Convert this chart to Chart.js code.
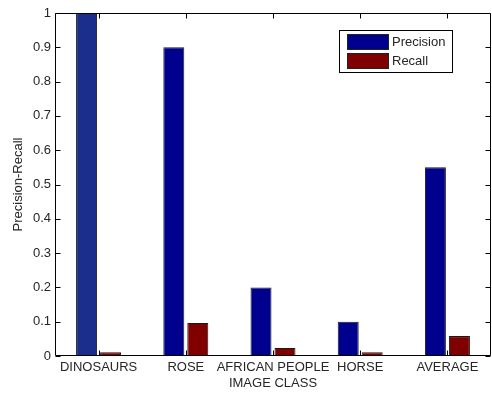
<!DOCTYPE html>
<html>
<head>
<meta charset="utf-8">
<script src="https://cdn.jsdelivr.net/npm/chart.js@4.4.1/dist/chart.umd.min.js"></script>
<style>
  html, body { margin: 0; padding: 0; background: #fff; }
  #wrap { width: 492px; height: 394px; }
</style>
</head>
<body>
<div id="wrap"><canvas id="prChart" width="492" height="394"></canvas></div>
<script>
// Data
const classes = ['DINOSAURS', 'ROSE', 'AFRICAN PEOPLE', 'HORSE', 'AVERAGE'];
const precision = [1.0, 0.9, 0.2, 0.1, 0.55];
const recall = [0.011, 0.096, 0.023, 0.011, 0.058];
const yTicks = [0, 0.1, 0.2, 0.3, 0.4, 0.5, 0.6, 0.7, 0.8, 0.9, 1];

const textColor = '#262626';
const fontFamily = "'Liberation Sans', Arial, sans-serif";

// MATLAB-like box: frame plus inward tick marks on all sides, and the legend box
const boxPlugin = {
    id: 'matlabBox',
    afterDraw(chart) {
        const ctx = chart.ctx;
        const area = chart.chartArea;
        const xs = chart.scales.x;
        const ys = chart.scales.y;
        const tick = 5;
        ctx.save();
        ctx.strokeStyle = '#000';
        ctx.lineWidth = 1;
        ctx.beginPath();
        const L = Math.round(area.left) + 0.5, R = Math.round(area.right) - 0.5;
        const T = Math.round(area.top) + 0.5, B = Math.round(area.bottom) - 0.5;
        ctx.rect(L, T, R - L, B - T);
        yTicks.forEach(v => {
            const py = Math.round(ys.getPixelForValue(v)) + 0.5;
            ctx.moveTo(L, py); ctx.lineTo(L + tick, py);
            ctx.moveTo(R, py); ctx.lineTo(R - tick, py);
        });
        classes.forEach((c, i) => {
            const px = Math.round(xs.getPixelForTick(i)) + 0.5;
            ctx.moveTo(px, T); ctx.lineTo(px, T + tick);
            ctx.moveTo(px, B); ctx.lineTo(px, B - tick);
        });
        ctx.stroke();

        // legend
        const lx = 339.5, ly = 30.5, lw = 113, lh = 42;
        ctx.fillStyle = '#fff';
        ctx.fillRect(lx, ly, lw, lh);
        ctx.strokeRect(lx, ly, lw, lh);
        ctx.font = '13px ' + fontFamily;
        ctx.textBaseline = 'middle';
        chart.data.datasets.forEach((ds, i) => {
            const sy = 34.5 + i * 19;
            ctx.fillStyle = ds.legendColor;
            ctx.fillRect(347.5, sy, 41, 15);
            ctx.strokeStyle = '#222';
            ctx.strokeRect(347.5, sy, 41, 15);
            ctx.fillStyle = textColor;
            ctx.fillText(ds.label, 392, sy + 7.5);
        });
        ctx.restore();
    }
};

document.addEventListener('DOMContentLoaded', () => {
    const ctx = document.getElementById('prChart').getContext('2d');

    new Chart(ctx, {
        type: 'bar',
        data: {
            labels: classes,
            datasets: [{
                label: 'Precision',
                data: precision,
                backgroundColor: ['#1b2e8c', '#00008f', '#00008f', '#00008f', '#00008f'],
                legendColor: '#00008f',
                borderColor: '#1a1a1a',
                borderWidth: 1,
                categoryPercentage: 0.55,
                barPercentage: 0.875
            }, {
                label: 'Recall',
                data: recall,
                backgroundColor: '#800000',
                legendColor: '#800000',
                borderColor: '#1a1a1a',
                borderWidth: 1,
                categoryPercentage: 0.55,
                barPercentage: 0.875
            }]
        },
        options: {
            responsive: false,
            animation: false,
            layout: { padding: { top: 13, right: 1, left: 0, bottom: 0 } },
            plugins: {
                legend: { display: false },
                tooltip: { enabled: false }
            },
            scales: {
                x: {
                    grid: { display: false, drawTicks: false },
                    border: { display: false },
                    ticks: {
                        autoSkip: false,
                        maxRotation: 0,
                        minRotation: 0,
                        padding: 4,
                        color: textColor,
                        font: { family: fontFamily, size: 13 }
                    },
                    title: {
                        display: true,
                        text: 'IMAGE CLASS',
                        color: textColor,
                        font: { family: fontFamily, size: 13 },
                        padding: { top: 0, bottom: 3 }
                    },
                    afterFit(scale) { scale.height = 38; }
                },
                y: {
                    min: 0,
                    max: 1,
                    grid: { display: false, drawTicks: false },
                    border: { display: false },
                    ticks: {
                        stepSize: 0.1,
                        padding: 4,
                        color: textColor,
                        font: { family: fontFamily, size: 13 },
                        callback: (v) => String(Number(v.toFixed(1)))
                    },
                    title: {
                        display: true,
                        text: 'Precision-Recall',
                        color: textColor,
                        font: { family: fontFamily, size: 13 },
                        padding: { top: 11, bottom: 0 }
                    },
                    afterFit(scale) { scale.width = 55; }
                }
            }
        },
        plugins: [boxPlugin]
    });
});
</script>
</body>
</html>
